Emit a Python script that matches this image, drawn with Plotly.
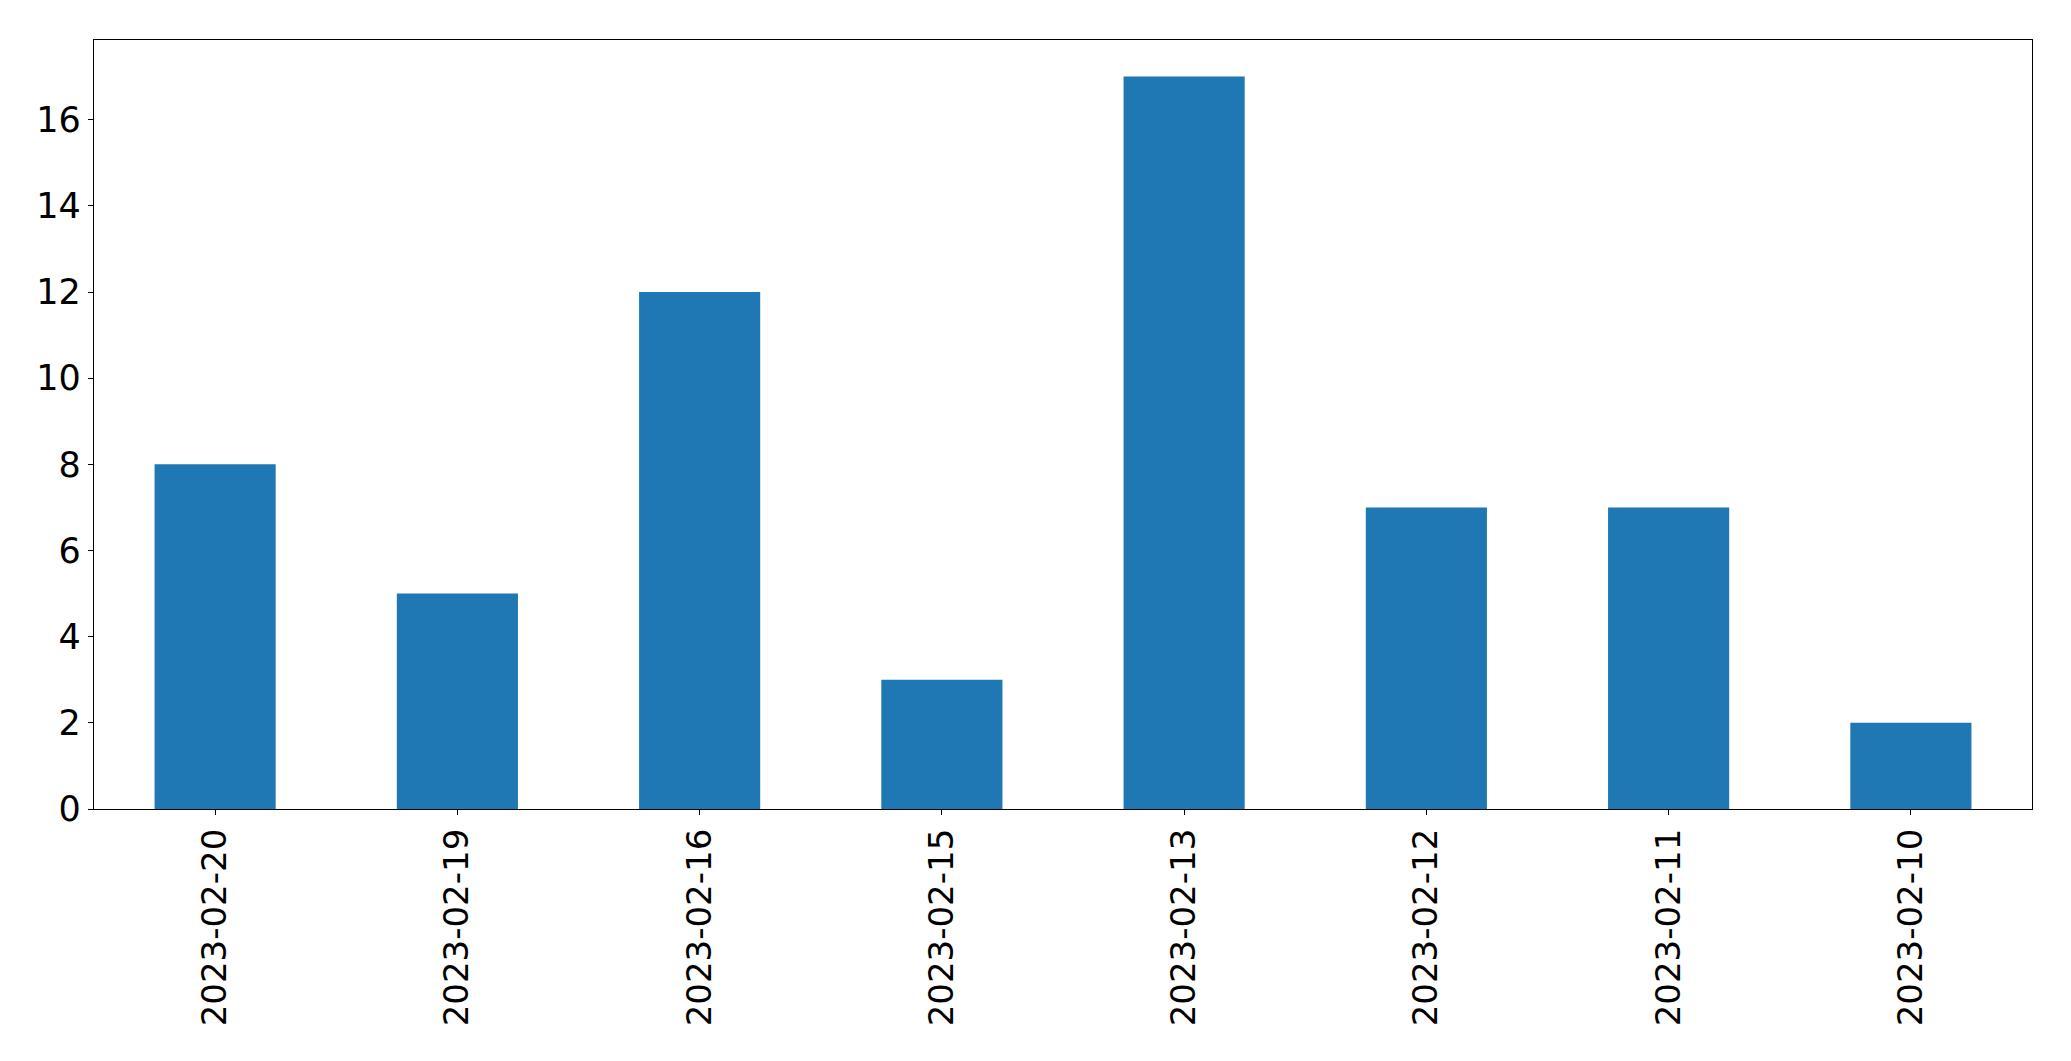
import plotly.graph_objects as go

dates = ["2023-02-20", "2023-02-19", "2023-02-16", "2023-02-15",
         "2023-02-13", "2023-02-12", "2023-02-11", "2023-02-10"]
counts = [8, 5, 12, 3, 17, 7, 7, 2]
y_ticks = [0, 2, 4, 6, 8, 10, 12, 14, 16]

fig = go.Figure(go.Bar(x=dates, y=counts, marker_color="#1f77b4",
                       marker_line_width=0, width=0.5))

fig.update_layout(
    width=2063, height=1053,
    margin=dict(l=86, r=39, t=32, b=252),
    plot_bgcolor="white", paper_bgcolor="white",
    font=dict(family="DejaVu Sans", size=35, color="black"),
    showlegend=False,
)
fig.update_xaxes(type="category", range=[-0.5, 7.5], tickangle=-90,
                 tickfont=dict(size=34),
                 showline=True, mirror=True, linecolor="black", linewidth=1.3,
                 ticks="outside", ticklen=5, tickwidth=1.3, tickcolor="black",
                 showgrid=False, zeroline=False)
fig.update_yaxes(range=[0, 17.85], tickvals=y_ticks,
                 showline=True, mirror=True, linecolor="black", linewidth=1.3,
                 ticks="outside", ticklen=5, tickwidth=1.3, tickcolor="black",
                 showgrid=False, zeroline=False)

fig.write_html("out.html")
